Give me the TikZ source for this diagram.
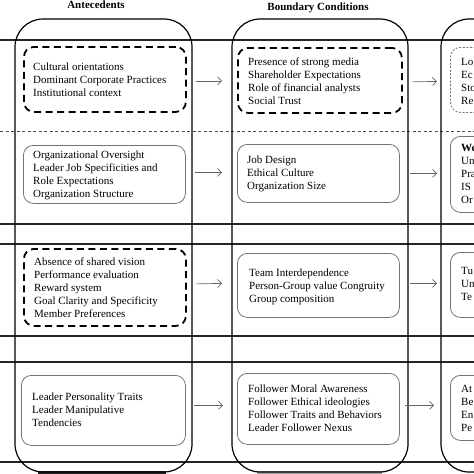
\documentclass[tikz,border=0pt]{standalone}
\usepackage{fontspec}
\setmainfont{Liberation Serif}
\usetikzlibrary{arrows.meta,calc}
\begin{document}
\begin{tikzpicture}[x=1pt,y=-1pt,
  colbox/.style={draw=black,line width=1.2pt,rounded corners=28pt},
  hline/.style={draw=black!85,line width=1.1pt},
  dline/.style={draw=black!70,line width=0.7pt,dash pattern=on 3pt off 2.5pt},
  dbox/.style={draw=black,line width=1.8pt,dash pattern=on 7pt off 4.5pt,rounded corners=10pt,inner sep=0pt,anchor=north west},
  gbox/.style={draw=black!55,line width=0.8pt,rounded corners=10pt,inner sep=0pt,anchor=north west},
  gdbox/.style={draw=black!55,line width=0.8pt,dash pattern=on 2pt off 1.6pt,rounded corners=10pt,inner sep=0pt,anchor=north west},
  txt/.style={anchor=base west,align=left,inner sep=0pt,font=\fontsize{11}{13}\selectfont,text=black},
  ttl/.style={anchor=base,inner sep=0pt,font=\fontsize{11}{13}\selectfont\bfseries},
  arr/.style={draw=black!60,line width=0.7pt,-{Straight Barb[length=4pt,width=8pt,line width=0.7pt]}}]
\useasboundingbox (0,0) rectangle (474,474);
\clip (0,0) rectangle (474,474);
% shadows
\fill[black!85] (38,471) rectangle (166,475);
\fill[black!35] (257,471) rectangle (382,475);
% horizontal rules
\foreach \yy in {40,224,244,336,362,462} \draw[hline] (0,\yy) -- (474,\yy);
\draw[dline] (0,131) -- (474,131);
% columns
\node[ttl] (tA) at (96,8.5) {Antecedents};
\node[ttl] (tB) at (318,10) {Boundary Conditions};
\draw[colbox] (15,19) rectangle (192,472);
\draw[colbox] (232,19) rectangle (408,472);
\draw[colbox] (441,19) rectangle (640,472);
% column 1
\node[dbox,minimum width=162pt,minimum height=65pt] (a1) at (23,46) {};
\node[gbox,minimum width=162pt,minimum height=58pt] (a2) at (23,145) {};
\node[dbox,minimum width=162pt,minimum height=77pt] (a3) at (23,248) {};
\node[gbox,minimum width=164pt,minimum height=70pt] (a4) at (21,375) {};
\node[txt] (a1t) at (33,96) {Cultural orientations\\Dominant Corporate Practices\\Institutional context};
\node[txt] (a2t) at (33,197) {Organizational Oversight\\Leader Job Specificities and\\Role Expectations\\Organization Structure};
\node[txt] (a3t) at (34,317) {Absence of shared vision\\Performance evaluation\\Reward system\\Goal Clarity and Specificity\\Member Preferences};
\node[txt] (a4t) at (32,426) {Leader Personality Traits\\Leader Manipulative\\Tendencies};
% column 2
\node[dbox,minimum width=164pt,minimum height=65pt] (b1) at (237,47) {};
\node[gbox,minimum width=162pt,minimum height=58pt] (b2) at (237,144) {};
\node[gbox,minimum width=162pt,minimum height=64pt] (b3) at (237,253) {};
\node[gbox,minimum width=162pt,minimum height=71pt] (b4) at (237,373) {};
\node[txt] (b1t) at (248,104) {Presence of strong media\\Shareholder Expectations\\Role of financial analysts\\Social Trust};
\node[txt] (b2t) at (247,189) {Job Design\\Ethical Culture\\Organization Size};
\node[txt] (b3t) at (249,302) {Team Interdependence\\Person-Group value Congruity\\Group composition};
\node[txt] (b4t) at (248,431) {Follower Moral Awareness\\Follower Ethical ideologies\\Follower Traits and Behaviors\\Leader Follower Nexus};
% column 3
\node[gdbox,minimum width=100pt,minimum height=65pt] (c1) at (450,47) {};
\node[gbox,minimum width=100pt,minimum height=76pt] (c2) at (450,136) {};
\node[gbox,minimum width=100pt,minimum height=65pt] (c3) at (450,252) {};
\node[gbox,minimum width=100pt,minimum height=65pt] (c4) at (450,375) {};
\node[txt] (c1t) at (461,104) {Lo\\Ec\\Sto\\Re};
\node[txt] (c2t) at (461,203) {\textbf{We}\\Un\\Pra\\IS\\Or};
\node[txt] (c3t) at (461,300) {Tu\\Un\\Te};
\node[txt] (c4t) at (461,431) {At\\Be\\En\\Pe};
% arrows
\draw[arr] ($(a1.east)+(9,1.5)$) -- ($(b1.west)+(-15,0.5)$);
\draw[arr] ($(b1.east)+(9,1.5)$) -- ($(c1.west)+(-13,1.5)$);
\draw[arr] ($(a2.east)+(9,-2)$) -- ($(b2.west)+(-15,-1)$);
\draw[arr] ($(b2.east)+(10,0)$) -- ($(c2.west)+(-13,-1)$);
\draw[arr] ($(a3.east)+(9,-3.5)$) -- ($(b3.west)+(-15,-2)$);
\draw[arr] ($(b3.east)+(10,-2)$) -- ($(c3.west)+(-13,-1.5)$);
\draw[arr] ($(a4.east)+(8,-5)$) -- ($(b4.west)+(-14,-3.5)$);
\draw[arr] ($(b4.east)+(5,-3.5)$) -- ($(c4.west)+(-16,-2.5)$);
\end{tikzpicture}
\end{document}
